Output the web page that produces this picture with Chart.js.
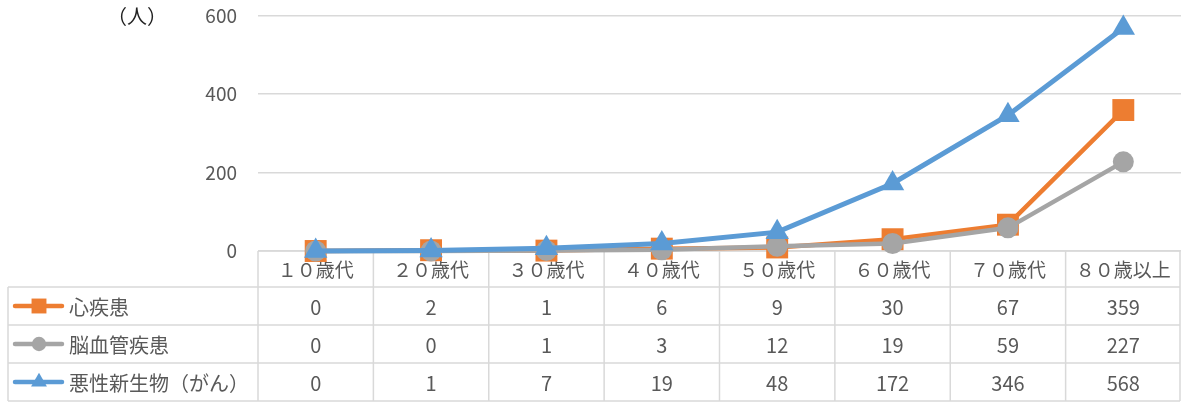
<!DOCTYPE html>
<html>
<head>
<meta charset="utf-8">
<title>年代別死亡者数</title>
<script src="https://cdn.jsdelivr.net/npm/chart.js"></script>
<style>
  html, body { margin: 0; padding: 0; background: #fff; overflow: hidden; }
  /* chart.js keeps ~33px above the plot, pull the canvas up so 600 sits at y=16 */
  #wrap { width: 1181px; height: 420px; margin-top: -17px; }
</style>
</head>
<body>
<div id="wrap"><canvas id="chart"></canvas></div>
<script>
// data
const categories = ['１０歳代', '２０歳代', '３０歳代', '４０歳代', '５０歳代', '６０歳代', '７０歳代', '８０歳以上'];
const seriesNames = ['心疾患', '脳血管疾患', '悪性新生物（がん）'];
const heartDisease = [0, 2, 1, 6, 9, 30, 67, 359];
const cerebroDisease = [0, 0, 1, 3, 12, 19, 59, 227];
const cancer = [0, 1, 7, 19, 48, 172, 346, 568];
const yTicks = [0, 200, 400, 600];
const unitLabel = '（人）';

const FONT = '"Noto Sans CJK JP", "Noto Sans", sans-serif';
const TEXT = '#595959';
const GRID = '#d9d9d9';
const colors = ['#ED7D31', '#A5A5A5', '#5B9BD5'];
const markers = ['rect', 'circle', 'triangle'];
const radii = [15.5, 10.5, 13.5];

// don't let the big markers push the plot area in, the layout is fixed by padding
Chart.LineController.prototype.getMaxOverflow = () => 0;

// table under the plot, columns follow the x scale
const dataTable = {
  id: 'dataTable',
  beforeDatasetsDraw(chart) {
    const ctx = chart.ctx;
    const area = chart.chartArea;
    const x = chart.scales.x;
    const colW = (area.right - area.left) / categories.length;
    const top = area.bottom;
    const headH = 36, rowH = 38;
    const rows = [heartDisease, cerebroDisease, cancer];
    const legendLeft = 8;
    const right = area.right - 1;
    const bottom = top + headH + rowH * rows.length;

    ctx.save();
    ctx.strokeStyle = GRID;
    ctx.lineWidth = 1.5;
    ctx.beginPath();
    // horizontal lines
    ctx.moveTo(area.left, top); ctx.lineTo(right, top);
    for (let r = 0; r <= rows.length; r++) {
      const y = top + headH + rowH * r;
      ctx.moveTo(legendLeft, y); ctx.lineTo(right, y);
    }
    // vertical lines
    for (let i = 0; i <= categories.length; i++) {
      const cx = Math.min(area.left + colW * i, right);
      ctx.moveTo(cx, top); ctx.lineTo(cx, bottom);
    }
    ctx.moveTo(legendLeft, top + headH); ctx.lineTo(legendLeft, bottom);
    ctx.stroke();

    ctx.fillStyle = TEXT;
    ctx.font = '19px ' + FONT;
    ctx.textAlign = 'center';
    ctx.textBaseline = 'middle';
    categories.forEach((c, i) => {
      ctx.fillText(c, x.getPixelForValue(i), top + headH / 2 + 1);
    });
    rows.forEach((vals, r) => {
      const cy = top + headH + rowH * r + rowH / 2 + 1;
      ctx.font = '20px ' + FONT;
      vals.forEach((v, i) => ctx.fillText(String(v), x.getPixelForValue(i), cy));
      // legend key
      ctx.strokeStyle = colors[r];
      ctx.lineWidth = 4.5;
      ctx.lineCap = 'round';
      ctx.beginPath();
      ctx.moveTo(15, cy - 1); ctx.lineTo(62, cy - 1);
      ctx.stroke();
      ctx.fillStyle = colors[r];
      Chart.helpers.drawPoint(ctx, { pointStyle: markers[r], radius: radii[r] * 0.68, borderWidth: 0 }, 39, cy - 1);
      ctx.fillStyle = TEXT;
      ctx.textAlign = 'left';
      ctx.fillText(seriesNames[r], 69, cy);
      ctx.textAlign = 'center';
    });

    ctx.font = '20px ' + FONT;
    ctx.fillStyle = '#222';
    ctx.fillText(unitLabel, 137, area.top + 1);
    ctx.restore();
  }
};

const datasets = [heartDisease, cerebroDisease, cancer].map((vals, i) => ({
  label: seriesNames[i],
  data: vals,
  borderColor: colors[i],
  backgroundColor: colors[i],
  borderWidth: i === 2 ? 5 : 4.5,
  pointStyle: markers[i],
  pointRadius: radii[i],
  pointHoverRadius: radii[i],
  pointBorderWidth: 0,
  tension: 0,
  clip: false,
  order: 3 - i
}));

new Chart(document.getElementById('chart'), {
  type: 'line',
  data: { labels: categories, datasets: datasets },
  options: {
    responsive: true,
    maintainAspectRatio: false,
    animation: false,
    layout: { padding: { top: 0, bottom: 152, left: 0, right: 0 } },
    plugins: { legend: { display: false }, tooltip: { enabled: false } },
    scales: {
      x: { display: false, offset: true },
      y: {
        min: 0, max: 600,
        afterFit(scale) { scale.width = 258; },
        afterBuildTicks(scale) { scale.ticks = yTicks.map(v => ({ value: v })); },
        grid: { color: GRID, lineWidth: 1.5, drawTicks: false },
        border: { display: false },
        ticks: { color: TEXT, padding: 21, font: { family: FONT, size: 19 } }
      }
    }
  },
  plugins: [dataTable]
});
</script>
</body>
</html>
